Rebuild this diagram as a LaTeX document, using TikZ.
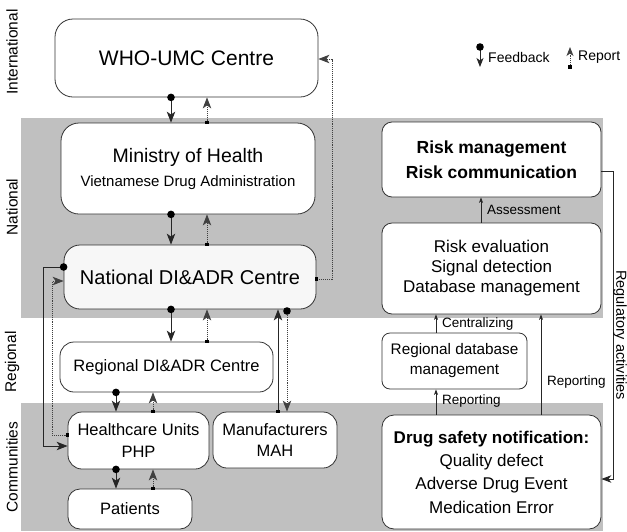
\documentclass[tikz,border=0pt]{standalone}
\usepackage{fontspec}
\setmainfont{Liberation Sans}
\usetikzlibrary{arrows.meta,decorations.markings,calc}
\definecolor{band}{HTML}{C0C0C0}
\definecolor{edge}{HTML}{333333}
\begin{document}
\begin{tikzpicture}[x=1pt,y=-1pt,
  box/.style={draw=edge,line width=0.8pt,rounded corners=14pt,fill=white,align=center,inner sep=0pt},
  fs/.style 2 args={font=\fontsize{#1}{#2}\selectfont},
  conn/.style={draw=black!85,line width=0.9pt},
  dotline/.style={draw=black!75,line width=0.9pt,dash pattern=on 1.1pt off 1pt},
  bigtip/.style={-{Stealth[length=11pt,width=8.5pt,inset=3pt]}},
  smalltip/.style={-{Stealth[length=5.5pt,width=4pt,inset=1.5pt]}},
  fbdot/.style={postaction={decorate,decoration={markings,mark=at position 0 with {\fill[black] (0,0) circle (3.8pt);}}}},
  rpsq/.style={postaction={decorate,decoration={markings,mark=at position 0 with {\fill[black] (-1.8pt,-1.8pt) rectangle (1.8pt,1.8pt);}}}},
  fb/.style={conn,bigtip,fbdot},
  rp/.style={dotline,bigtip,rpsq},
  lab/.style={fs={13.5}{16},inner sep=0pt,anchor=west},
  side/.style={fs={15.5}{18},rotate=90,inner sep=0pt}
]
\useasboundingbox (0,0) rectangle (627,531);
% bands
\fill[band] (21,118) rectangle (603,318);
\fill[band] (21,403) rectangle (603,531);
% side labels
\node[side] (lint) at (12,52) {International};
\node[side] (lnat) at (12,207) {National};
\node[side] (lreg) at (12,362) {Regional};
\node[side] (lcom) at (12,467) {Communities};
% nodes
\node[box,rounded corners=18pt,minimum width=263pt,minimum height=78pt,fs={21}{24}] (who) at (186.5,58) {WHO-UMC Centre};
\node[box,rounded corners=18pt,minimum width=254pt,minimum height=91pt,fs={19.5}{23}] (moh) at (188,168.5) {Ministry of Health\\[1pt]{\fontsize{15}{18}\selectfont Vietnamese Drug Administration}};
\node[box,fill=black!3,rounded corners=16pt,minimum width=252pt,minimum height=64pt,fs={20}{24}] (nat) at (190,277) {National DI\&ADR Centre};
\node[box,rounded corners=14pt,minimum width=213pt,minimum height=50pt,fs={16.5}{20}] (reg) at (166.5,367) {Regional DI\&ADR Centre};
\node[box,rounded corners=14pt,minimum width=141pt,minimum height=57pt,fs={16.5}{21.7}] (hcu) at (138.5,440.5) {Healthcare Units\\PHP};
\node[box,rounded corners=14pt,minimum width=124pt,minimum height=56pt,fs={16.5}{21.7}] (mah) at (275,440) {Manufacturers\\MAH};
\node[box,rounded corners=12pt,minimum width=124pt,minimum height=40pt,fs={16.5}{20}] (pat) at (130,509) {Patients};
\node[box,rounded corners=10pt,minimum width=219pt,minimum height=75pt,font=\fontsize{17.5}{25}\selectfont\bfseries] (rm) at (491.5,159.5) {Risk management\\Risk communication};
\node[box,rounded corners=10pt,minimum width=219pt,minimum height=91pt,fs={17}{20}] (re) at (491.5,268.5) {Risk evaluation\\Signal detection\\Database management};
\node[box,rounded corners=8pt,minimum width=145pt,minimum height=56pt,fs={15.3}{20}] (rdb) at (454.5,361) {Regional database\\management};
\node[box,rounded corners=12pt,minimum width=219pt,minimum height=114pt,fs={17}{23.3}] (ds) at (491.5,472) {\textbf{Drug safety notification:}\\Quality defect\\Adverse Drug Event\\Medication Error};
% helper coordinates
\coordinate (xa) at (171,0);
\coordinate (xb) at (207,0);
\coordinate (xc) at (116,0);
\coordinate (xd) at (153,0);
\coordinate (xm1) at (278,0);
\coordinate (xm2) at (287,0);
\coordinate (xr1) at (436,0);
\coordinate (xr2) at (541,0);
\coordinate (xr3) at (481,0);
% vertical feedback/report pairs
\draw[fb] (who.south -| xa) -- (moh.north -| xa);
\draw[rp] (moh.north -| xb) -- (who.south -| xb);
\draw[fb] (moh.south -| xa) -- (nat.north -| xa);
\draw[rp] (nat.north -| xb) -- (moh.south -| xb);
\draw[fb] (nat.south -| xa) -- (reg.north -| xa);
\draw[rp] (reg.north -| xb) -- (nat.south -| xb);
\draw[fb] (reg.south -| xc) -- (hcu.north -| xc);
\draw[rp] (hcu.north -| xd) -- (reg.south -| xd);
\draw[fb] (hcu.south -| xc) -- (pat.north -| xc);
\draw[rp] (pat.north -| xd) -- (hcu.south -| xd);
% national <-> manufacturers
\draw[conn,bigtip,rpsq] (mah.north -| xm1) -- (nat.south -| xm1);
\coordinate (mdot) at (287,311);
\draw[dotline,bigtip,fbdot] (mdot) -- (mah.north -| xm2);
% left loop
\coordinate (l1) at (43,267);
\coordinate (l2) at (43,446);
\coordinate (l3) at (52,435);
\coordinate (l4) at (52,281);
\draw[fb] (nat.west |- l1) -- (l1) -- (l2) -- (hcu.west |- l2);
\draw[rp] (hcu.west |- l3) -- (l3) -- (l4) -- (nat.west |- l4);
% national -> WHO report
\coordinate (r1) at (332,279);
\coordinate (r2) at (332,59);
\draw[rp] (nat.east |- r1) -- (r1) -- (r2) -- (who.east |- r2);
% right side
\draw[conn,line width=0.7pt,smalltip] (re.north -| xr3) -- (rm.south -| xr3);
\draw[conn,line width=0.7pt,smalltip] (rdb.north -| xr1) -- (re.south -| xr1);
\draw[conn,line width=0.7pt,smalltip] (ds.north -| xr1) -- (rdb.south -| xr1);
\draw[conn,line width=0.7pt,smalltip] (ds.north -| xr2) -- (re.south -| xr2);
\node[lab] (tass) at (487,210) {Assessment};
\node[lab] (tcen) at (442,324) {Centralizing};
\node[lab] (trep1) at (442,401) {Reporting};
\node[lab] (trep2) at (547,382) {Reporting};
% regulatory activities
\coordinate (g1) at (613,171);
\coordinate (g2) at (613,479);
\draw[conn,-{Stealth[length=10pt,width=7.5pt,inset=3pt]}] (rm.east |- g1) -- (g1) -- (g2) -- (ds.east |- g2);
\node[fs={14.5}{17},rotate=-90,inner sep=0pt] (treg) at (620,335) {Regulatory activities};
% legend
\coordinate (f1) at (480,47);
\coordinate (f2) at (480,67);
\draw[conn,fbdot,-{Stealth[length=9pt,width=7pt,inset=2.5pt]}] (f1) -- (f2);
\node[fs={14}{17},inner sep=0pt,anchor=west] (tfb) at (488,57) {Feedback};
\coordinate (p1) at (570,67);
\coordinate (p2) at (570,47);
\draw[dotline,rpsq,-{Stealth[length=9pt,width=7pt,inset=2.5pt]}] (p1) -- (p2);
\node[fs={14}{17},inner sep=0pt,anchor=west] (trp) at (578,57) {Report};
\end{tikzpicture}
\end{document}
